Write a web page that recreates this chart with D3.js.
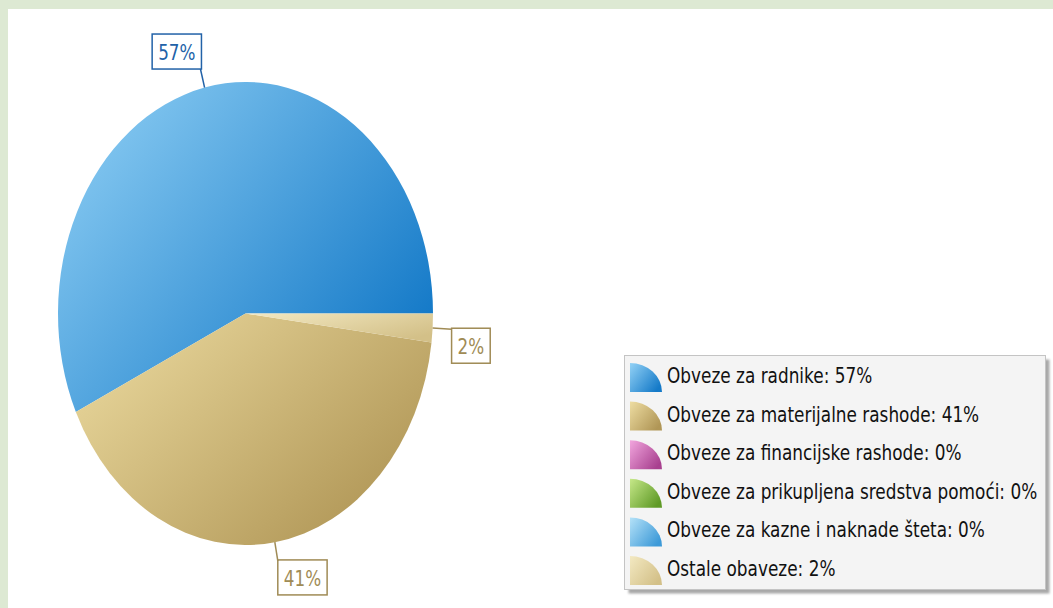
<!DOCTYPE html>
<html>
<head>
<meta charset="utf-8">
<script src="https://cdn.jsdelivr.net/npm/d3@7"></script>
<style>
    html, body { margin: 0; padding: 0; background: #dde9d3; }
    #chart { width: 1053px; height: 608px; }
    text { font-family: "DejaVu Sans", Verdana, sans-serif; }
</style>
</head>
<body>
<div id="chart"></div>
<script>
// Chart data
const categories = [
    'Obveze za radnike',
    'Obveze za materijalne rashode',
    'Obveze za financijske rashode',
    'Obveze za prikupljena sredstva pomoći',
    'Obveze za kazne i naknade šteta',
    'Ostale obaveze'
];
const values = [57, 41, 0, 0, 0, 2];
const lightColors = ['#93d2f6', '#eedda2', '#f2a6de', '#c6e889', '#b5e2f8', '#f3e9c2'];
const darkColors = ['#157ac8', '#b09656', '#a8408f', '#5f9a26', '#3d9ad8', '#d3c088'];
const labelColors = ['#2262a8', '#a08b55', '#a0478a', '#5f9a26', '#3d9ad8', '#a08b55'];

document.addEventListener('DOMContentLoaded', () => {
    const width = 1053, height = 608;
    const svg = d3.select('#chart').append('svg')
        .attr('width', width)
        .attr('height', height);

    // white panel
    svg.append('rect')
        .attr('x', 8).attr('y', 9)
        .attr('width', width - 8).attr('height', height - 9)
        .attr('fill', '#ffffff');

    const defs = svg.append('defs');
    categories.forEach((c, i) => {
        const g = defs.append('linearGradient')
            .attr('id', 'grad' + i)
            .attr('x1', 0).attr('y1', 0).attr('x2', 1).attr('y2', 0.7);
        g.append('stop').attr('offset', '0%').attr('stop-color', lightColors[i]);
        g.append('stop').attr('offset', '100%').attr('stop-color', darkColors[i]);
    });
    const shadow = defs.append('filter').attr('id', 'blur');
    shadow.append('feGaussianBlur').attr('stdDeviation', 1.2);

    // Pie (stretched vertically like the original)
    const cx = 245.5, cy = 313.5, rx = 187.5, ry = 231.5;
    const ky = ry / rx;
    const textStretch = 1.22;

    const pie = d3.pie()
        .sort(null)
        .value(d => d)
        .startAngle(Math.PI / 2)
        .endAngle(Math.PI / 2 - 2 * Math.PI);
    const arcs = pie(values);
    const arc = d3.arc().innerRadius(0).outerRadius(rx);

    const pieG = svg.append('g')
        .attr('transform', `translate(${cx},${cy}) scale(1,${ky})`);
    pieG.selectAll('path')
        .data(arcs.filter(d => d.value > 0))
        .enter().append('path')
        .attr('d', arc)
        .attr('fill', d => `url(#grad${d.index})`);

    // Labels with leader lines
    const labels = svg.append('g');
    arcs.filter(d => d.value > 0).forEach(d => {
        const a = (d.startAngle + d.endAngle) / 2;
        const px = cx + Math.sin(a) * rx;
        const py = cy - Math.cos(a) * ry;
        const ex = px + Math.sin(a) * 19;
        const ey = py - Math.cos(a) * 19;
        const col = labelColors[d.index];

        labels.append('line')
            .attr('x1', px).attr('y1', py)
            .attr('x2', ex).attr('y2', ey)
            .attr('stroke', col)
            .attr('stroke-width', 1.5);

        const txt = labels.append('text')
            .attr('font-size', 16.8)
            .attr('fill', col)
            .text(d.value + '%');
        const tw = txt.node().getComputedTextLength();
        const bw = tw + 12, bh = 35;
        const bx = ex < cx ? ex - bw + 1 : ex;
        const by = ey < cy ? ey - bh : ey - 1;

        labels.insert('rect', 'text')
            .attr('x', bx).attr('y', by)
            .attr('width', bw).attr('height', bh)
            .attr('fill', '#ffffff')
            .attr('stroke', col)
            .attr('stroke-width', 1.5);
        txt.attr('transform', `translate(${bx + 6},${by + 26}) scale(1,${textStretch})`);
    });

    // Legend
    const legX = 624.5, legY = 355.5, legW = 421, legH = 234;
    const leg = svg.append('g');
    leg.append('rect')
        .attr('x', legX + 4).attr('y', legY + 4)
        .attr('width', legW).attr('height', legH)
        .attr('fill', '#a8a8a8')
        .attr('filter', 'url(#blur)');
    leg.append('rect')
        .attr('x', legX).attr('y', legY)
        .attr('width', legW).attr('height', legH)
        .attr('fill', '#f4f4f4')
        .attr('stroke', '#c4c4c4')
        .attr('stroke-width', 1);

    const rowY = d3.scaleLinear().domain([0, 5]).range([392, 585]);
    const items = leg.selectAll('.item')
        .data(categories)
        .enter().append('g')
        .attr('class', 'item');

    items.append('path')
        .attr('d', (d, i) => {
            const x0 = 630, y0 = rowY(i), r1 = 32, r2 = 29;
            return `M${x0},${y0} L${x0},${y0 - r2} A${r1},${r2} 0 0 1 ${x0 + r1},${y0} Z`;
        })
        .attr('fill', (d, i) => `url(#grad${i})`);

    items.append('text')
        .attr('transform', (d, i) => `translate(667,${rowY(i) - 9}) scale(1,${textStretch})`)
        .attr('font-size', 16.9)
        .attr('fill', '#111')
        .text((d, i) => `${d}: ${values[i]}%`);
});
</script>
</body>
</html>
